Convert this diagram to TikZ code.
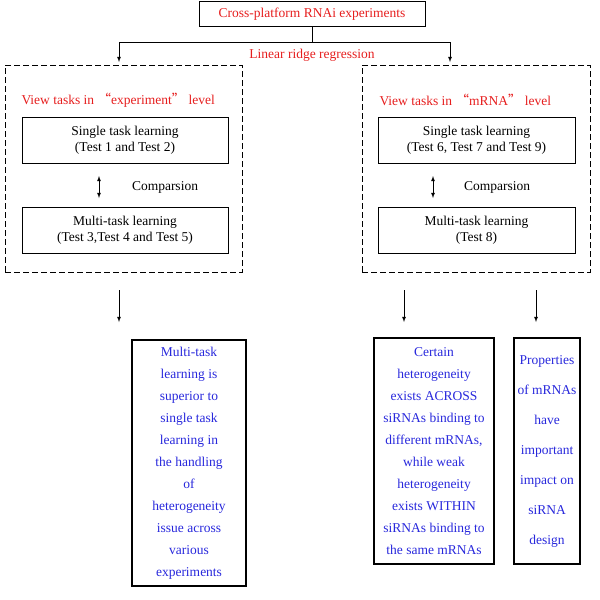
\documentclass[tikz,border=0pt]{standalone}
\usepackage{fontspec}
\setmainfont{Liberation Serif}
\newfontfamily\cjk{Noto Sans CJK SC}
\usetikzlibrary{positioning}
\definecolor{redtxt}{RGB}{230,30,30}
\definecolor{bluetxt}{RGB}{40,40,220}
\tikzset{
  box/.style={draw,thick,align=center,inner sep=0},
  dbox/.style={draw,thick,dash pattern=on 6pt off 3pt,inner sep=0},
  res/.style={draw,line width=1.2pt,text=bluetxt,align=center,inner sep=0,
    font=\fontsize{13.5}{22}\selectfont},
  arr/.style={-latex,thick},
}
\begin{document}
\begin{tikzpicture}[x=1pt,y=-1pt,font=\fontsize{13.5}{16}\selectfont]
\useasboundingbox (0,0) rectangle (600,600);
% top
\node[box,text=redtxt,minimum width=226,minimum height=25] (top) at (312,14) {Cross-platform RNAi experiments};
\coordinate (split) at (312,42);
\coordinate (sl) at (119,42);
\coordinate (sr) at (450,42);
\draw[thick] (top) -- (split);
\draw[arr] (sl) -- (sr) (sl) -- ++(0,20);
\draw[arr] (sr) -- ++(0,20);
\node[text=redtxt] (lrr) at (312,55) {Linear ridge regression};
% left panel
\node[dbox,minimum width=237,minimum height=207] (pl) at (123.5,168.5) {};
\node[text=redtxt,anchor=west] (vl) at (18,100) {View tasks in {\cjk “}experiment{\cjk ”} level};
\node[box,minimum width=206,minimum height=46] (l1) at (125,140) {Single task learning\\(Test 1 and Test 2)};
\node[box,minimum width=206,minimum height=46] (l2) at (125,230.5) {Multi-task learning\\(Test 3,Test 4 and Test 5)};
\coordinate (la) at (99,176);
\coordinate (lb) at (99,198);
\draw[latex-latex,thick] (la) -- (lb);
\node (lc) at (165,187) {Comparsion};
% right panel
\node[dbox,minimum width=228,minimum height=207] (pr) at (476,168.5) {};
\node[text=redtxt,anchor=west] (vr) at (376,100) {View tasks in {\cjk “}mRNA{\cjk ”} level};
\node[box,minimum width=197,minimum height=46] (r1) at (476.5,140) {Single task learning\\(Test 6, Test 7 and Test 9)};
\node[box,minimum width=197,minimum height=46] (r2) at (476.5,230.5) {Multi-task learning\\(Test 8)};
\coordinate (ra) at (433,176);
\coordinate (rb) at (433,198);
\draw[latex-latex,thick] (ra) -- (rb);
\node (rc) at (497,187) {Comparsion};
% results
\node[res,minimum width=114,minimum height=246] (o1) at (189,463) {Multi-task\\learning is\\superior to\\single task\\learning in\\the handling\\of\\heterogeneity\\issue across\\various\\experiments};
\node[res,minimum width=120,minimum height=226] (o2) at (434,451) {Certain\\heterogeneity\\exists ACROSS\\siRNAs binding to\\different mRNAs,\\while weak\\heterogeneity\\exists WITHIN\\siRNAs binding to\\the same mRNAs};
\node[res,font=\fontsize{13.5}{30}\selectfont,minimum width=66,minimum height=226] (o3) at (547,451) {Properties\\of mRNAs\\have\\important\\impact on\\siRNA\\design};
\coordinate (a1) at (119,290);
\coordinate (a2) at (404,290);
\coordinate (a3) at (536,290);
\draw[arr] (a1) -- ++(0,32);
\draw[arr] (a2) -- ++(0,32);
\draw[arr] (a3) -- ++(0,32);
\end{tikzpicture}
\end{document}
